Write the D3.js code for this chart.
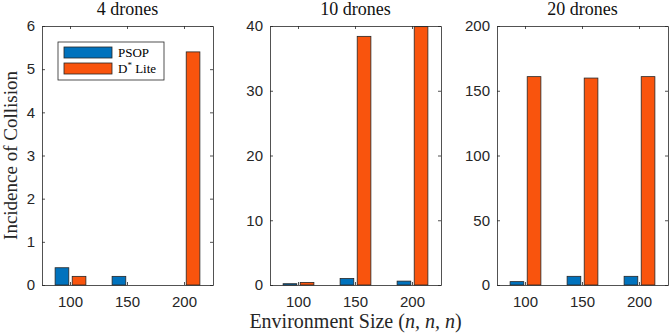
<!DOCTYPE html>
<html>
<head>
<meta charset="utf-8">
<script src="https://cdn.jsdelivr.net/npm/d3@7"></script>
<style>
  body { margin: 0; background: #fff; }
  svg { display: block; }
</style>
</head>
<body>
<div id="chart"></div>
<script>
// data
var sizes = ["100", "150", "200"];
var series = ["PSOP", "D* Lite"];
var titles = ["4 drones", "10 drones", "20 drones"];
var psop = [[0.4, 0.2, 0], [0.2, 1.0, 0.6], [2.6, 6.7, 6.7]];
var dlite = [[0.2, 0, 5.4], [0.4, 38.4, 39.9], [160.9, 159.8, 160.9]];
var yMax = [6, 40, 200];
var yTicks = [[0, 1, 2, 3, 4, 5, 6], [0, 10, 20, 30, 40], [0, 50, 100, 150, 200]];

var colors = ["#0072BD", "#F9540D"];
var W = 671, H = 336;
var lefts = [42, 270, 497],
    plotTop = 26, pw = 171, ph = 259;
var serif = "'Liberation Serif', 'DejaVu Serif', serif";

var svg = d3.select("#chart").append("svg")
    .attr("width", W)
    .attr("height", H);

var x0 = d3.scaleBand().domain(sizes).range([0, pw])
    .paddingInner(0.46).paddingOuter(0.23);
var x1 = d3.scaleBand().domain(series).range([0, x0.bandwidth()])
    .paddingInner(0.2).paddingOuter(0);

lefts.forEach(function(left, p) {
  var g = svg.append("g")
      .attr("transform", "translate(" + left + "," + plotTop + ")");

  var y = d3.scaleLinear().domain([0, yMax[p]]).range([ph, 0]);

  var rows = sizes.map(function(s, i) {
    return {size: s, vals: [psop[p][i], dlite[p][i]]};
  });

  // bars
  g.selectAll("g.grp")
    .data(rows)
    .enter().append("g")
      .attr("transform", function(d) { return "translate(" + x0(d.size) + ",0)"; })
    .selectAll("rect")
    .data(function(d) { return d.vals.map(function(v, k) { return {k: k, v: v}; }); })
    .enter().append("rect")
      .attr("x", function(d) { return x1(series[d.k]); })
      .attr("width", x1.bandwidth())
      .attr("y", function(d) { return y(d.v); })
      .attr("height", function(d) { return ph - y(d.v); })
      .attr("fill", function(d) { return colors[d.k]; })
      .attr("stroke", "#262626")
      .attr("stroke-width", 0.8);

  // axes, matlab style with inward ticks and a box
  var ax = [
    d3.axisLeft(y).tickValues(yTicks[p]).tickFormat(d3.format("d")).tickSizeInner(-3).tickSizeOuter(0).tickPadding(7),
    d3.axisRight(y).tickValues(yTicks[p]).tickSizeInner(-3).tickSizeOuter(0).tickFormat(""),
    d3.axisBottom(x0).tickSizeInner(-3).tickSizeOuter(0).tickPadding(11),
    d3.axisTop(x0).tickSizeInner(-3).tickSizeOuter(0).tickFormat("")
  ];
  var pos = ["translate(0,0)", "translate(" + pw + ",0)", "translate(0," + ph + ")", "translate(0,0)"];
  ax.forEach(function(a, i) {
    var ga = g.append("g").attr("transform", pos[i]).call(a);
    ga.selectAll("path,line").attr("stroke", "#262626").attr("stroke-width", 0.8);
    ga.selectAll("text")
      .style("font-family", "'Liberation Sans', Arial, sans-serif")
      .style("font-size", "15px")
      .attr("fill", "#262626");
  });

  g.append("text")
      .attr("x", pw / 2)
      .attr("y", -11)
      .attr("text-anchor", "middle")
      .style("font-family", serif)
      .style("font-size", "18px")
      .style("font-weight", "normal")
      .attr("fill", "#111")
      .text(titles[p]);
});

// legend
var leg = svg.append("g").attr("transform", "translate(58,42)");
leg.append("rect")
    .attr("width", 106).attr("height", 38)
    .attr("fill", "#fff").attr("stroke", "#262626").attr("stroke-width", 0.8);
series.forEach(function(s, i) {
  leg.append("rect")
      .attr("x", 6).attr("y", 5 + i * 16)
      .attr("width", 48).attr("height", 11)
      .attr("fill", colors[i]).attr("stroke", "#262626").attr("stroke-width", 0.8);
  var t = leg.append("text")
      .attr("x", 60).attr("y", 15 + i * 16)
      .style("font-family", serif)
      .style("font-size", "13px")
      .attr("fill", "#000");
  if (i === 0) t.text(s);
  else {
    t.append("tspan").text("D");
    t.append("tspan").attr("dy", -5).style("font-size", "9px").text("*");
    t.append("tspan").attr("dy", 5).text(" Lite");
  }
});

// axis titles
svg.append("text")
    .attr("transform", "translate(17," + (plotTop + ph / 2) + ") rotate(-90)")
    .attr("text-anchor", "middle")
    .style("font-family", serif)
    .style("font-size", "19px")
    .attr("fill", "#262626")
    .text("Incidence of Collision");

var xl = svg.append("text")
    .attr("x", lefts[1] + pw / 2)
    .attr("y", 328)
    .attr("text-anchor", "middle")
    .style("font-family", serif)
    .style("font-size", "20px")
    .attr("fill", "#262626");
xl.append("tspan").text("Environment Size (");
xl.append("tspan").style("font-style", "italic").text("n, n, n");
xl.append("tspan").text(")");
</script>
</body>
</html>
